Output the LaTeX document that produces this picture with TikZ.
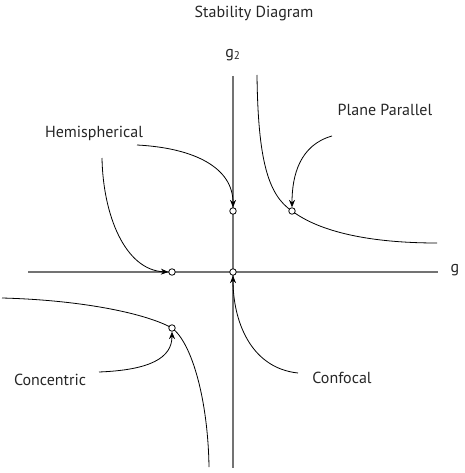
\documentclass[tikz,border=0pt]{standalone}
\usepackage{fontspec}
\setmainfont{PT Sans}
\usetikzlibrary{arrows.meta}
\begin{document}
\begin{tikzpicture}[x=1pt,y=-1pt,
  axis/.style={draw=black!55, line width=1.4pt},
  curve/.style={draw=black, line width=0.8pt},
  pt/.style={circle, draw=black, fill=white, line width=0.8pt, inner sep=0pt, minimum size=6.5pt},
  lbl/.style={font=\fontsize{16}{18}\selectfont, text=black!85, inner sep=1pt},
  arr/.style={curve, -{Stealth[length=7.5pt,width=6pt]}}]
\useasboundingbox (0,0) rectangle (464,473);
% labels
\node[lbl] (title) at (254,14) {Stability Diagram};
\node[lbl] (gy) at (233,55) {g\textsubscript{2}};
\node[lbl] (gx) at (455,270) {g};
\node[lbl] (hemi) at (94,133) {Hemispherical};
\node[lbl] (plane) at (385,110) {Plane Parallel};
\node[lbl] (conc) at (50,380) {Concentric};
\node[lbl] (conf) at (342,378) {Confocal};
% axis ends and free connector ends
\coordinate (hl) at (28,272);
\coordinate (hr) at (438,272);
\coordinate (vt) at (233,76);
\coordinate (vb) at (233,468);
\coordinate (ppTop) at (257,75);
\coordinate (ppEnd) at (437,243);
\coordinate (ccStart) at (2,298);
\coordinate (ccEnd) at (209,467);
\coordinate (a1) at (137,145);
\coordinate (a2) at (102,158);
\coordinate (a3) at (332,136);
\coordinate (a4) at (298,373);
\coordinate (a5) at (99,372);
% axes
\draw[axis] (hl) -- (hr);
\draw[axis] (vt) -- (vb);
% point positions
\coordinate (oc) at (233,272);
\coordinate (hxc) at (172,272);
\coordinate (hyc) at (233,211);
\coordinate (ppc) at (292,211);
\coordinate (ccc) at (172,328);
% hyperbolas
\draw[curve] (ppTop) .. controls (258,160) and (268,195) .. (ppc)
  .. controls (320,232) and (370,243) .. (ppEnd);
\draw[curve] (ccStart) .. controls (80,300) and (145,313) .. (ccc)
  .. controls (192,343) and (208,400) .. (ccEnd);
% points
\node[pt] (o) at (oc) {};
\node[pt] (hx) at (hxc) {};
\node[pt] (hy) at (hyc) {};
\node[pt] (pp) at (ppc) {};
\node[pt] (cc) at (ccc) {};
% arrows
\draw[arr] (a1) .. controls (195,148) and (233,168) .. (hy.north);
\draw[arr] (a2) .. controls (103,215) and (125,270) .. (hx.west);
\draw[arr] (a3) .. controls (300,145) and (292,175) .. (pp.north);
\draw[arr] (a4) .. controls (250,368) and (233,320) .. (o.south);
\draw[arr] (a5) .. controls (150,370) and (172,358) .. (cc.south);
\end{tikzpicture}
\end{document}
